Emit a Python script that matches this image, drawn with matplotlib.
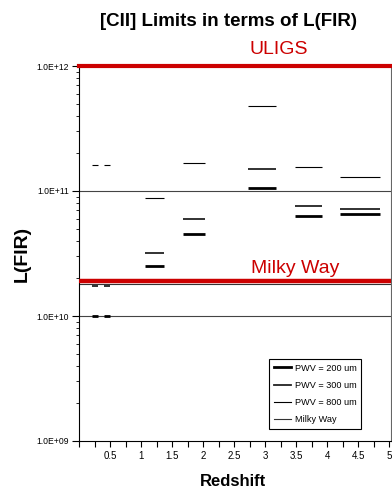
import math
import matplotlib
matplotlib.use('Agg')
import matplotlib.pyplot as plt
from matplotlib.lines import Line2D
from matplotlib.ticker import FixedLocator, FuncFormatter, LogLocator, NullFormatter

plt.rcParams['lines.scale_dashes'] = False

# segment extents in redshift for each group of limits
z_lo = [0.21, 1.06, 1.67, 2.72, 3.48, 4.20]
z_hi = [0.52, 1.37, 2.03, 3.17, 3.92, 4.85]

# L(FIR) limits for each PWV case
lfir_200 = [1.0e10, 2.5e10, 4.5e10, 1.06e11, 6.35e10, 6.5e10]
lfir_300 = [1.75e10, 3.2e10, 6.0e10, 1.5e11, 7.6e10, 7.2e10]
lfir_800 = [1.6e11, 8.85e10, 1.69e11, 4.8e11, 1.57e11, 1.29e11]

milky_way = 1.8e10
milky_way_ref = 1.9e10
uligs = 1.0e12

FONT = ['Liberation Sans', 'DejaVu Sans']

fig = plt.figure(figsize=(3.92, 4.91), dpi=100)
ax = fig.add_axes([79/392, 50/491, 312/392, 375/491])
ax.set_yscale('log')
ax.set_xlim(0, 5.03)
ax.set_ylim(1e9, 1e12)

# gridlines at decades
for g in [1e10, 1e11]:
    ax.axhline(g, color='#444444', lw=0.8, zorder=1)

series = [(lfir_200, 'PWV = 200 um', 2.0, 'black'),
          (lfir_300, 'PWV = 300 um', 1.3, '#222222'),
          (lfir_800, 'PWV = 800 um', 0.8, 'black')]

for vals, lab, lw, col in series:
    for i in range(len(vals)):
        ln, = ax.plot([z_lo[i], z_hi[i]], [vals[i], vals[i]], color=col, lw=lw,
                      solid_capstyle='butt', dash_capstyle='butt', zorder=3)
        if i == 0:
            ln.set_dashes([6*0.72, 6*0.72])

ax.axhline(milky_way, color='#333333', lw=0.8, zorder=2)
ax.axhline(milky_way_ref, color='#cc0000', lw=3.2, zorder=4)
ax.axhline(uligs, color='#cc0000', lw=3.0, zorder=4, clip_on=False)

ax.text(3.48, 2.42e10, 'Milky Way', color='#cc0000', fontsize=14,
        family=FONT, ha='center', va='center')
ax.text(3.22, 1.36e12, 'ULIGS', color='#cc0000', fontsize=14,
        family=FONT, ha='center', va='center', clip_on=False)

# axes styling
for s in ['left', 'bottom', 'right']:
    ax.spines[s].set_color('black')
    ax.spines[s].set_linewidth(0.8)
ax.spines['top'].set_visible(False)
ax.spines['right'].set_color('#666666')

xt = [i * 0.25 for i in range(21)]
ax.xaxis.set_major_locator(FixedLocator(xt))
ax.xaxis.set_major_formatter(FuncFormatter(
    lambda v, p: ('%g' % v) if (v > 0 and abs(v * 2 - round(v * 2)) < 1e-6) else ''))
ax.tick_params(axis='x', direction='out', length=4, width=0.8, pad=3, labelsize=7)

ax.yaxis.set_major_locator(FixedLocator([1e9, 1e10, 1e11, 1e12]))
ax.yaxis.set_major_formatter(FuncFormatter(lambda v, p: '1.0E+%02d' % round(math.log10(v))))
ax.yaxis.set_minor_locator(LogLocator(base=10, subs=range(2, 10)))
ax.yaxis.set_minor_formatter(NullFormatter())
ax.tick_params(axis='y', which='major', direction='out', length=5, width=0.8, pad=2, labelsize=6.2)
ax.tick_params(axis='y', which='minor', direction='out', length=2.5, width=0.6)
for t in ax.get_xticklabels() + ax.get_yticklabels():
    t.set_family(FONT)

fig.text(229/392, 1 - 21/491, '[CII] Limits in terms of L(FIR)', fontsize=13.5,
         fontweight='bold', family=FONT, ha='center', va='center')
fig.text(233/392, 1 - 481/491, 'Redshift', fontsize=12, fontweight='bold',
         family=FONT, ha='center', va='center')
fig.text(22/392, 1 - 254/491, 'L(FIR)', fontsize=14, fontweight='bold',
         family=FONT, ha='center', va='center', rotation=90)

handles = [Line2D([], [], color='black', lw=2.0),
           Line2D([], [], color='#222222', lw=1.3),
           Line2D([], [], color='black', lw=0.8),
           Line2D([], [], color='#333333', lw=0.8)]
labels = ['PWV = 200 um', 'PWV = 300 um', 'PWV = 800 um', 'Milky Way']
leg = ax.legend(handles, labels, loc='upper left',
                bbox_to_anchor=((269 - 79) / 312, (441 - 359) / 375),
                borderaxespad=0, fancybox=False, framealpha=1, edgecolor='black',
                prop={'family': FONT, 'size': 6.6}, handlelength=1.85,
                handletextpad=0.45, labelspacing=0.9, borderpad=0.5)
leg.get_frame().set_linewidth(0.8)

fig.savefig('out.png', dpi=100)
